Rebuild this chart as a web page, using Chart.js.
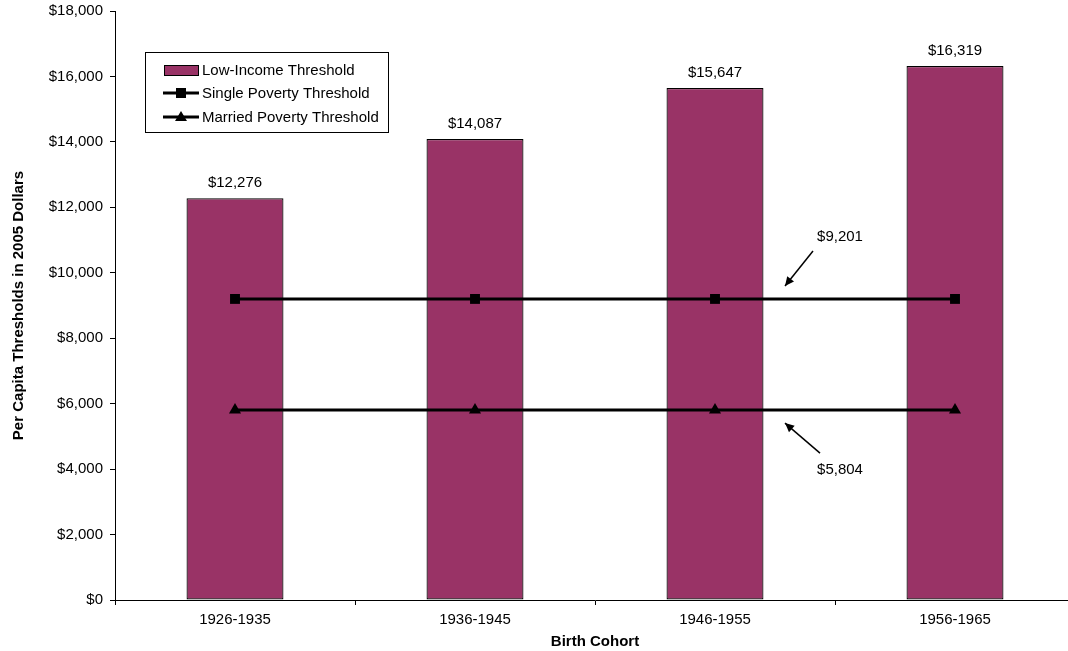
<!DOCTYPE html>
<html lang="en">
  <head>
    <meta charset="utf-8" />
    <title>Per Capita Thresholds by Birth Cohort</title>
    <style>
      html, body {
        margin: 0;
        padding: 0;
        background: #fff;
        overflow: hidden;
      }
      .chartBox {
        position: absolute;
        left: 0;
        top: 0;
        width: 1100px;
        height: 651px;
      }
    </style>
  </head>
  <body>
    <div class="chartBox">
      <canvas id="myChart" width="1100" height="651"></canvas>
    </div>

    <script src="https://cdn.jsdelivr.net/npm/chart.js/dist/chart.umd.min.js"></script>
    <script>
      // data
      const cohorts = ["1926-1935", "1936-1945", "1946-1955", "1956-1965"];
      const lowIncome = [12276, 14087, 15647, 16319];
      const singlePoverty = [9201, 9201, 9201, 9201];
      const marriedPoverty = [5804, 5804, 5804, 5804];
      const seriesNames = ["Low-Income Threshold", "Single Poverty Threshold", "Married Poverty Threshold"];
      const yTicks = [0, 2000, 4000, 6000, 8000, 10000, 12000, 14000, 16000, 18000];

      const FONT = "'Liberation Sans', Arial, sans-serif";
      const BAR = "#993366";

      const money = (v) => "$" + v.toLocaleString("en-US");

      // labels over the bars, the two arrow notes and the boxed legend
      const extras = {
        id: "extras",
        afterDatasetsDraw(chart) {
          const { ctx, scales } = chart;
          const x = scales.x, y = scales.y;
          ctx.save();
          ctx.font = "15px " + FONT;
          ctx.fillStyle = "#000";
          ctx.textAlign = "center";
          ctx.textBaseline = "middle";

          chart.getDatasetMeta(2).data.forEach((bar, i) => {
            ctx.fillText(money(lowIncome[i]), bar.x, bar.y - 15);
          });

          // arrow notes
          const arrow = (x1, y1, x2, y2) => {
            ctx.strokeStyle = "#000";
            ctx.lineWidth = 1.5;
            ctx.beginPath();
            ctx.moveTo(x1, y1);
            ctx.lineTo(x2, y2);
            ctx.stroke();
            const a = Math.atan2(y2 - y1, x2 - x1);
            const L = 10, W = 0.45;
            ctx.beginPath();
            ctx.moveTo(x2, y2);
            ctx.lineTo(x2 - L * Math.cos(a - W), y2 - L * Math.sin(a - W));
            ctx.lineTo(x2 - L * Math.cos(a + W), y2 - L * Math.sin(a + W));
            ctx.closePath();
            ctx.fill();
          };
          const cx = x.getPixelForValue(2);
          const ys = y.getPixelForValue(singlePoverty[2]);
          const ym = y.getPixelForValue(marriedPoverty[2]);
          ctx.fillText(money(singlePoverty[2]), cx + 125, ys - 62);
          arrow(cx + 98, ys - 48, cx + 70, ys - 13);
          ctx.fillText(money(marriedPoverty[2]), cx + 125, ym + 60);
          arrow(cx + 105, ym + 43, cx + 70, ym + 13);

          // legend box
          const lx = 145, ly = 52, lw = 243, lh = 80;
          ctx.fillStyle = "#fff";
          ctx.fillRect(lx, ly, lw, lh);
          ctx.strokeStyle = "#000";
          ctx.lineWidth = 1;
          ctx.strokeRect(lx + 0.5, ly + 0.5, lw, lh);

          ctx.textAlign = "left";
          const rows = [70, 93, 117];
          // bar swatch
          ctx.fillStyle = BAR;
          ctx.fillRect(164, rows[0] - 5, 34, 10);
          ctx.strokeRect(164.5, rows[0] - 4.5, 34, 10);
          // line swatches
          [1, 2].forEach((k) => {
            const ry = rows[k];
            ctx.lineWidth = 3;
            ctx.beginPath();
            ctx.moveTo(163, ry);
            ctx.lineTo(199, ry);
            ctx.stroke();
            ctx.fillStyle = "#000";
            if (k === 1) {
              ctx.fillRect(176, ry - 5, 10, 10);
            } else {
              ctx.beginPath();
              ctx.moveTo(181, ry - 6);
              ctx.lineTo(187, ry + 4);
              ctx.lineTo(175, ry + 4);
              ctx.closePath();
              ctx.fill();
            }
          });
          ctx.fillStyle = "#000";
          seriesNames.forEach((name, k) => ctx.fillText(name, 202, rows[k] + 1));
          ctx.restore();
        },
      };

      const config = {
        data: {
          labels: cohorts,
          datasets: [
            {
              type: "line",
              label: seriesNames[1],
              data: singlePoverty,
              borderColor: "#000",
              backgroundColor: "#000",
              borderWidth: 3,
              pointStyle: "rect",
              pointRadius: 7,
              pointBorderWidth: 0,
              order: 1,
            },
            {
              type: "line",
              label: seriesNames[2],
              data: marriedPoverty,
              borderColor: "#000",
              backgroundColor: "#000",
              borderWidth: 3,
              pointStyle: "triangle",
              pointRadius: 7,
              pointBorderWidth: 0,
              order: 1,
            },
            {
              type: "bar",
              label: seriesNames[0],
              data: lowIncome,
              backgroundColor: BAR,
              borderColor: "#000",
              borderWidth: 1.2,
              borderSkipped: false,
              barPercentage: 0.404,
              categoryPercentage: 1,
              order: 2,
            },
          ],
        },
        options: {
          responsive: false,
          animation: false,
          layout: { padding: { top: 11, right: 25, left: 0, bottom: 0 } },
          plugins: {
            legend: { display: false },
            tooltip: { enabled: false },
          },
          scales: {
            x: {
              offset: true,
              grid: {
                offset: true,
                drawOnChartArea: false,
                drawTicks: true,
                tickLength: 5,
                color: "#000",
              },
              border: { display: true, color: "#000", width: 1 },
              ticks: {
                color: "#000",
                padding: 6,
                font: { size: 15, family: FONT },
                maxRotation: 0,
              },
              title: {
                display: true,
                text: "Birth Cohort",
                color: "#000",
                font: { size: 15, weight: "bold", family: FONT },
                padding: { top: 2, bottom: 0 },
              },
              afterFit: (s) => { s.height = 51; },
            },
            y: {
              min: 0,
              max: 18000,
              afterBuildTicks: (s) => { s.ticks = yTicks.map((v) => ({ value: v })); },
              grid: {
                drawOnChartArea: false,
                drawTicks: true,
                tickLength: 5,
                color: "#000",
              },
              border: { display: true, color: "#000", width: 1 },
              ticks: {
                color: "#000",
                padding: 7,
                font: { size: 15, family: FONT },
                callback: (v) => money(v),
              },
              title: {
                display: true,
                text: "Per Capita Thresholds in 2005 Dollars",
                color: "#000",
                font: { size: 15, weight: "bold", family: FONT },
                padding: { top: 10, bottom: 0 },
              },
              afterFit: (s) => {
                s.width = 115;
                s.paddingTop = 0;
                s.paddingBottom = 0;
              },
            },
          },
        },
        plugins: [extras],
      };

      const myChart = new Chart(document.getElementById("myChart"), config);
    </script>
  </body>
</html>
